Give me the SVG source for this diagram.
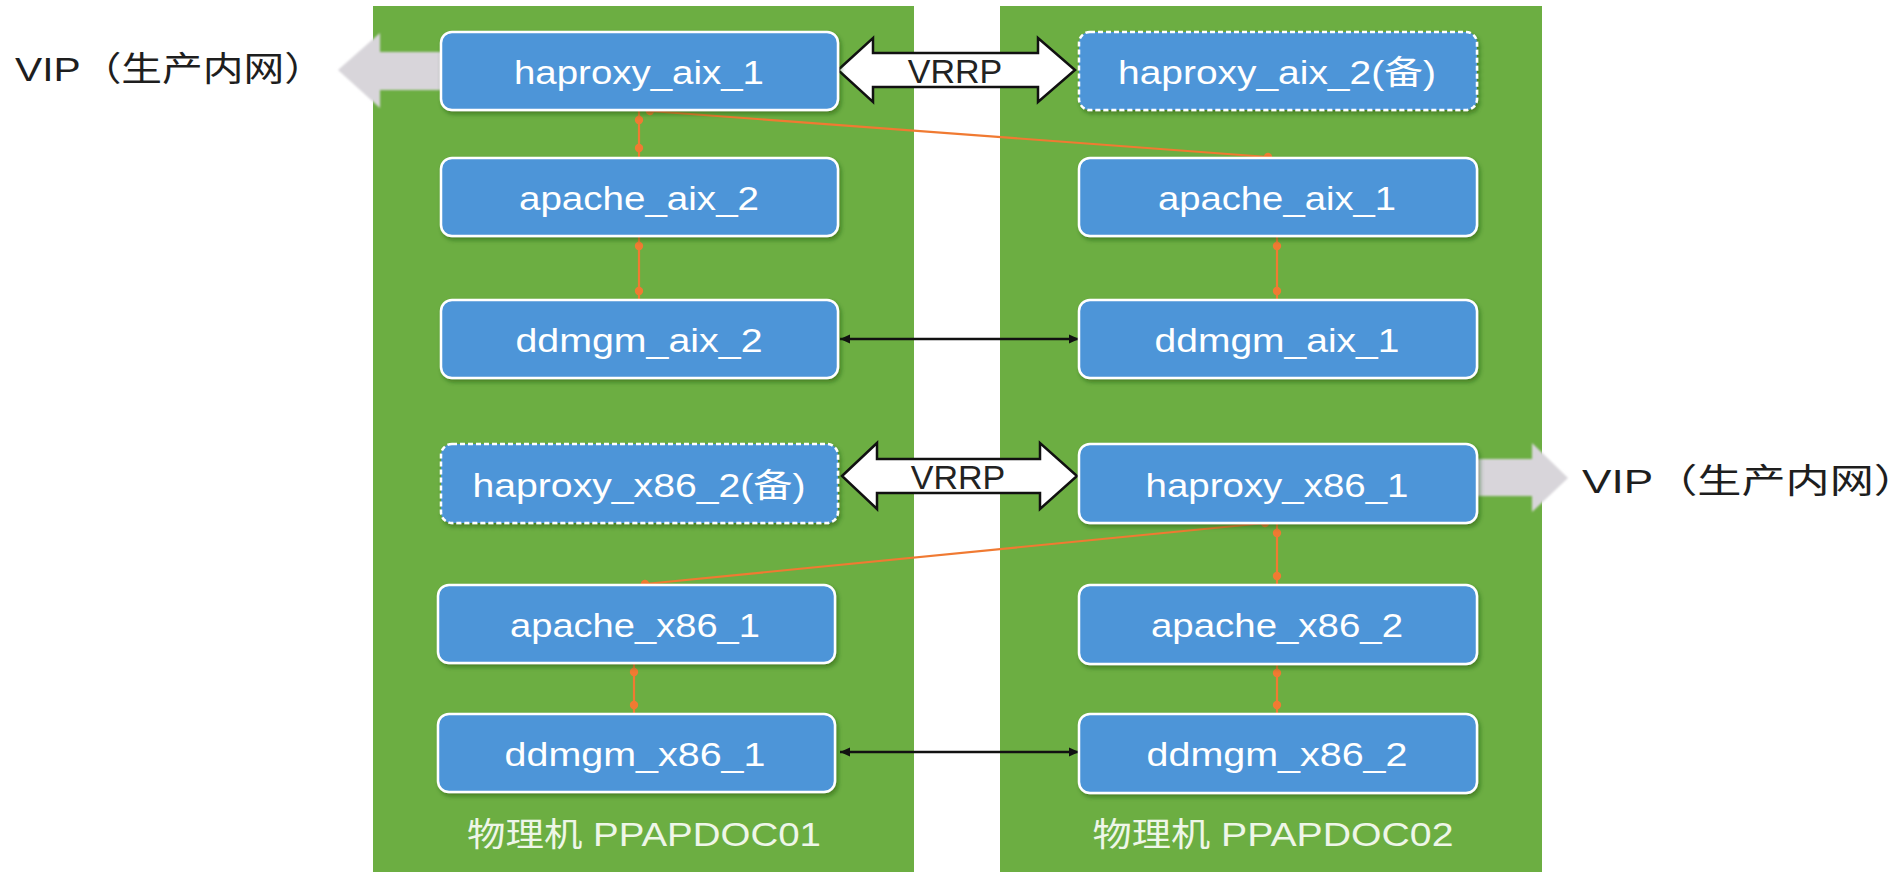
<svg xmlns="http://www.w3.org/2000/svg" width="1901" height="872" viewBox="0 0 1901 872">
<style>
.panel{fill:#6cae42}
.box{fill:#4e95d8;stroke:#ffffff;stroke-width:2.5}
.dash{stroke-dasharray:5 3}
.lbl{font-family:"Liberation Sans","Noto Sans CJK SC",sans-serif;font-size:33px;fill:#ffffff;text-anchor:middle}
.vip{font-family:"Liberation Sans","Noto Sans CJK SC",sans-serif;font-size:34px;fill:#1e1e1e}
.host{font-family:"Liberation Sans","Noto Sans CJK SC",sans-serif;font-size:33px;fill:#eef6e8;text-anchor:middle}
.vrrp{fill:#ffffff;stroke:#111111;stroke-width:2.5;stroke-linejoin:miter}
.vrrpt{font-family:"Liberation Sans",sans-serif;font-size:34px;fill:#222222;text-anchor:middle}
.gray{fill:#d8d5da}
.ol{stroke:#f07a32;stroke-width:2.2;fill:none}
.bl{stroke:#111111;stroke-width:2.5;fill:none}
</style>
<defs>
<filter id="sh" x="-5%" y="-10%" width="115%" height="130%">
<feDropShadow dx="2" dy="3" stdDeviation="2" flood-color="#1d4a10" flood-opacity="0.45"/>
</filter>
<filter id="soft"><feGaussianBlur stdDeviation="1.2"/></filter>
<marker id="oi" viewBox="-5 -5 10 10" refX="9" refY="0" markerWidth="10" markerHeight="10" markerUnits="userSpaceOnUse" orient="auto-start-reverse">
<circle cx="0" cy="0" r="4.2" fill="#f07a32"/>
</marker>
<marker id="oe" viewBox="-5 -5 10 10" refX="0" refY="0" markerWidth="10" markerHeight="10" markerUnits="userSpaceOnUse" orient="auto-start-reverse">
<circle cx="0" cy="0" r="4.2" fill="#f07a32"/>
</marker>
<marker id="ba" viewBox="0 -5 10 10" refX="10" refY="0" markerWidth="10" markerHeight="10" markerUnits="userSpaceOnUse" orient="auto-start-reverse">
<path d="M0,-4.5 L10,0 L0,4.5 Z" fill="#111111"/>
</marker>
</defs>
<rect x="0" y="0" width="1901" height="872" fill="#ffffff"/>
<g id="panels">
<rect class="panel" x="373" y="6" width="541" height="866"/>
<rect class="panel" x="1000" y="6" width="542" height="866"/>
</g>
<g id="vip-arrows" filter="url(#soft)">
<polygon class="gray" points="338,70 380,33 380,52 442,52 442,90 380,90 380,108"/>
<polygon class="gray" points="1476,459 1532,459 1532,443 1568,478 1532,512 1532,496 1476,496"/>
</g>
<g id="vip-labels">
<text class="vip" x="15" y="81" textLength="310" lengthAdjust="spacingAndGlyphs">VIP（生产内网）</text>
<text class="vip" x="1582" y="493" textLength="336" lengthAdjust="spacingAndGlyphs">VIP（生产内网）</text>
</g>
<g id="connectors">
<line class="ol" x1="639" y1="111" x2="639" y2="157" marker-start="url(#oi)" marker-end="url(#oi)"/>
<line class="ol" x1="639" y1="237" x2="639" y2="300" marker-start="url(#oi)" marker-end="url(#oi)"/>
<line class="ol" x1="650" y1="111" x2="1268" y2="157" marker-start="url(#oe)" marker-end="url(#oe)"/>
<line class="ol" x1="1277" y1="237" x2="1277" y2="300" marker-start="url(#oi)" marker-end="url(#oi)"/>
<line class="bl" x1="840" y1="339" x2="1079" y2="339" marker-start="url(#ba)" marker-end="url(#ba)"/>
<line class="ol" x1="1265" y1="523" x2="645" y2="584" marker-start="url(#oe)" marker-end="url(#oe)"/>
<line class="ol" x1="1277" y1="524" x2="1277" y2="585" marker-start="url(#oi)" marker-end="url(#oi)"/>
<line class="ol" x1="634" y1="663" x2="634" y2="714" marker-start="url(#oi)" marker-end="url(#oi)"/>
<line class="ol" x1="1277" y1="664" x2="1277" y2="714" marker-start="url(#oi)" marker-end="url(#oi)"/>
<line class="bl" x1="840" y1="752" x2="1079" y2="752" marker-start="url(#ba)" marker-end="url(#ba)"/>
</g>
<g id="vrrp1">
<polygon class="vrrp" points="838,70 873,38 873,53 1038,53 1038,38 1075,70 1038,102 1038,87 873,87 873,102"/>
<text class="vrrpt" x="955" y="83">VRRP</text>
</g>
<g id="vrrp2">
<polygon class="vrrp" points="842,476 877,443 877,459 1040,459 1040,443 1077,476 1040,509 1040,493 877,493 877,509"/>
<text class="vrrpt" x="958" y="489">VRRP</text>
</g>
<g id="haproxy_aix_1">
<rect class="box" filter="url(#sh)" x="441" y="32" width="397" height="78" rx="11"/>
<text class="lbl" x="639" y="84" textLength="250" lengthAdjust="spacingAndGlyphs">haproxy_aix_1</text>
</g>
<g id="apache_aix_2">
<rect class="box" filter="url(#sh)" x="441" y="158" width="397" height="78" rx="11"/>
<text class="lbl" x="639" y="210" textLength="240" lengthAdjust="spacingAndGlyphs">apache_aix_2</text>
</g>
<g id="ddmgm_aix_2">
<rect class="box" filter="url(#sh)" x="441" y="300" width="397" height="78" rx="11"/>
<text class="lbl" x="639" y="352" textLength="247" lengthAdjust="spacingAndGlyphs">ddmgm_aix_2</text>
</g>
<g id="haproxy_aix_2">
<rect class="box dash" filter="url(#sh)" x="1079" y="32" width="398" height="78" rx="11"/>
<text class="lbl" x="1277" y="84" textLength="318" lengthAdjust="spacingAndGlyphs">haproxy_aix_2(备)</text>
</g>
<g id="apache_aix_1">
<rect class="box" filter="url(#sh)" x="1079" y="158" width="398" height="78" rx="11"/>
<text class="lbl" x="1277" y="210" textLength="238" lengthAdjust="spacingAndGlyphs">apache_aix_1</text>
</g>
<g id="ddmgm_aix_1">
<rect class="box" filter="url(#sh)" x="1079" y="300" width="398" height="78" rx="11"/>
<text class="lbl" x="1277" y="352" textLength="245" lengthAdjust="spacingAndGlyphs">ddmgm_aix_1</text>
</g>
<g id="haproxy_x86_2">
<rect class="box dash" filter="url(#sh)" x="441" y="444" width="397" height="79" rx="11"/>
<text class="lbl" x="639" y="497" textLength="333" lengthAdjust="spacingAndGlyphs">haproxy_x86_2(备)</text>
</g>
<g id="apache_x86_1">
<rect class="box" filter="url(#sh)" x="438" y="585" width="397" height="78" rx="11"/>
<text class="lbl" x="635" y="637" textLength="250" lengthAdjust="spacingAndGlyphs">apache_x86_1</text>
</g>
<g id="ddmgm_x86_1">
<rect class="box" filter="url(#sh)" x="438" y="714" width="397" height="78" rx="11"/>
<text class="lbl" x="635" y="766" textLength="261" lengthAdjust="spacingAndGlyphs">ddmgm_x86_1</text>
</g>
<g id="haproxy_x86_1">
<rect class="box" filter="url(#sh)" x="1079" y="444" width="398" height="79" rx="11"/>
<text class="lbl" x="1277" y="497" textLength="263" lengthAdjust="spacingAndGlyphs">haproxy_x86_1</text>
</g>
<g id="apache_x86_2">
<rect class="box" filter="url(#sh)" x="1079" y="585" width="398" height="79" rx="11"/>
<text class="lbl" x="1277" y="637" textLength="252" lengthAdjust="spacingAndGlyphs">apache_x86_2</text>
</g>
<g id="ddmgm_x86_2">
<rect class="box" filter="url(#sh)" x="1079" y="714" width="398" height="79" rx="11"/>
<text class="lbl" x="1277" y="766" textLength="261" lengthAdjust="spacingAndGlyphs">ddmgm_x86_2</text>
</g>
<g id="host1">
<text class="host" x="644" y="846" textLength="354" lengthAdjust="spacingAndGlyphs">物理机 PPAPDOC01</text>
</g>
<g id="host2">
<text class="host" x="1273" y="846" textLength="361" lengthAdjust="spacingAndGlyphs">物理机 PPAPDOC02</text>
</g>
</svg>
